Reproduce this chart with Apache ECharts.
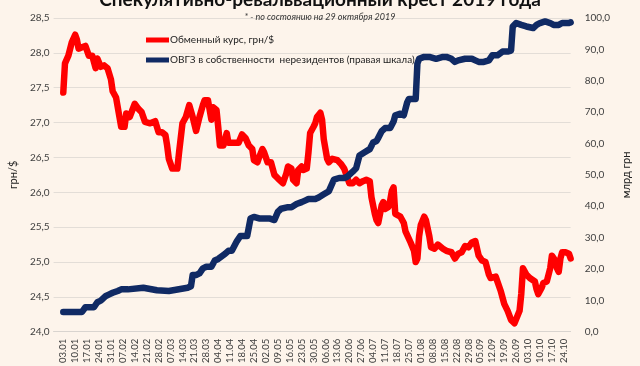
<!DOCTYPE html>
<html>
<head>
<meta charset="utf-8">
<script src="https://cdn.jsdelivr.net/npm/echarts@6/dist/echarts.min.js"></script>
<style>
html,body{margin:0;padding:0;background:#fdf4eb;}
#chart{width:640px;height:366px;}
</style>
</head>
<body>
<div id="chart"></div>
<script>
// x-axis tick labels (weekly, day offsets from 03.01.2019 = 0, 7, 14, ...)
const weekLabels = ['03.01','10.01','17.01','24.01','31.01','07.02','14.02','21.02','28.02','07.03','14.03','21.03','28.03','04.04','11.04','18.04','25.04','02.05','09.05','16.05','23.05','30.05','06.06','13.06','20.06','27.06','04.07','11.07','18.07','25.07','01.08','08.08','15.08','22.08','29.08','05.09','12.09','19.09','26.09','03.10','10.10','17.10','24.10'];

// Exchange rate, UAH/$ (day offset from 03.01.2019)
const rateDays = [0,1,3,5,7,8,9,11,13,15,17,18,19,20,22,24,26,28,29,31,33,34,36,37,39,42,44,46,48,51,54,56,58,60,61,62,64,67,68,70,72,74,75,76,78,79,80,82,83,85,86,87,88,90,91,92,94,95,96,97,100,103,105,107,109,111,112,114,115,117,118,120,122,124,126,129,131,132,134,135,137,138,140,141,143,144,145,147,148,149,151,152,153,155,156,158,161,163,165,166,168,170,172,174,176,178,180,181,183,184,185,187,188,189,191,192,193,194,195,198,200,201,202,204,206,207,208,209,210,212,213,215,216,218,220,223,225,228,230,232,234,236,238,240,242,244,246,248,250,251,254,255,257,259,261,263,265,266,268,269,270,272,274,277,278,279,281,282,284,286,287,289,290,291,292,293,295,297,298];
const rateValues = [27.43,27.85,27.96,28.15,28.26,28.19,28.06,28.08,28.10,27.96,27.96,27.87,27.78,27.92,27.80,27.82,27.78,27.62,27.45,27.36,27.08,26.94,26.94,27.13,27.08,27.27,27.20,27.15,27.01,26.99,27.02,26.86,26.86,26.82,26.67,26.48,26.34,26.34,26.57,26.99,27.08,27.25,27.27,27.08,26.88,26.90,27.08,27.25,27.32,27.32,27.18,27.04,27.22,27.18,26.94,26.67,26.67,26.76,26.85,26.71,26.71,26.71,26.83,26.78,26.67,26.62,26.46,26.43,26.50,26.62,26.57,26.43,26.43,26.25,26.20,26.13,26.27,26.37,26.34,26.18,26.13,26.32,26.37,26.32,26.34,26.57,26.85,26.94,26.99,27.08,27.14,27.04,26.76,26.48,26.43,26.48,26.46,26.41,26.34,26.27,26.13,26.13,26.18,26.13,26.16,26.18,26.16,25.93,25.69,25.60,25.56,25.81,25.86,25.76,25.79,25.88,26.02,26.07,25.69,25.65,25.56,25.44,25.44,25.28,25.16,25.00,25.05,25.37,25.53,25.65,25.60,25.37,25.21,25.19,25.25,25.19,25.16,25.14,25.05,25.12,25.14,25.23,25.21,25.28,25.30,25.09,25.02,25.00,24.82,24.77,24.79,24.77,24.58,24.40,24.30,24.17,24.12,24.14,24.30,24.54,24.91,24.82,24.77,24.72,24.61,24.54,24.63,24.70,24.72,24.91,25.09,25.02,24.91,24.86,25.05,25.14,25.14,25.12,25.05];

// OVGZ held by non-residents, bn UAH (right axis)
const ovgzDays = [0,11,13,18,20,22,25,27,29,32,34,38,47,55,62,63,73,75,76,78,80,82,84,87,89,91,95,97,99,102,104,108,110,112,115,121,124,126,128,132,134,137,140,142,144,148,150,153,156,159,162,165,167,170,172,174,177,180,182,184,185,187,189,192,194,195,198,200,202,203,207,208,209,212,215,219,223,225,228,230,232,236,240,242,244,247,250,252,255,256,258,261,263,264,266,269,272,276,278,280,283,286,288,291,293,297,298];
const ovgzValues = [6.3,6.3,7.8,7.8,9.4,9.9,11.4,11.9,12.4,13.0,13.5,13.5,14.0,13.2,13.0,13.5,14.0,14.5,18.1,18.1,18.6,20.2,20.7,20.7,22.7,23.2,24.8,25.8,25.8,28.9,30.5,30.5,36.1,36.6,36.1,36.1,35.6,38.2,39.2,39.7,39.7,40.7,41.3,41.8,42.3,42.3,42.8,43.8,44.8,48.5,49.0,49.0,49.5,51.0,52.1,56.2,57.2,58.2,60.3,60.8,61.8,63.9,64.9,64.9,67.0,69.0,69.5,69.0,73.1,74.2,74.2,85.5,87.0,87.6,87.6,87.0,87.6,87.6,87.0,86.0,86.5,87.0,87.0,86.5,86.0,86.0,86.5,88.1,88.1,88.6,89.3,89.3,89.6,97.3,98.4,97.8,97.3,96.8,97.8,98.4,98.9,98.4,97.8,97.8,98.4,98.4,98.6];

const rateName = 'Обменный курс, грн/$';
const ovgzName = 'ОВГЗ в собственности  нерезидентов (правая шкала)';

const comma = (v, d) => v.toFixed(d).replace('.', ',');
const font = 'Lato, "Liberation Sans", sans-serif';

const chart = echarts.init(document.getElementById('chart'), null, {renderer: 'canvas'});
chart.setOption({
  backgroundColor: '#fdf4eb',
  animation: false,
  title: [
    {text: 'Спекулятивно-ревальвационный крест 2019 года', left: 'center', top: -15,
     textStyle: {fontFamily: font, fontSize: 19, fontWeight: 'bold', color: '#111'}},
    {text: '* - по состоянию на 29 октября 2019', left: 'center', top: 8,
     textStyle: {fontFamily: font, fontSize: 9, fontStyle: 'italic', fontWeight: 'normal', color: '#333'}}
  ],
  legend: {
    orient: 'vertical', left: 141, top: 30, itemGap: 10, itemWidth: 23, itemHeight: 5,
    icon: 'rect',
    textStyle: {fontFamily: font, fontSize: 10, color: '#222', padding: [0,0,0,-4]},
    data: [rateName, ovgzName]
  },
  grid: {left: 50, right: 56, top: 18, bottom: 24, containLabel: false},
  xAxis: {
    type: 'value', min: -5.7, max: 298,
    axisLine: {show: true, lineStyle: {color: '#d9d4cf', width: 1}},
    axisTick: {show: false},
    splitLine: {show: false},
    axisLabel: {
      customValues: weekLabels.map((_, i) => i * 7),
      formatter: v => weekLabels[Math.round(v / 7)] || '',
      rotate: 90, fontSize: 9.5, fontFamily: font, color: '#404040', margin: 7
    }
  },
  yAxis: [
    {type: 'value', min: 24, max: 28.5, interval: 0.5, name: 'грн/$',
     nameLocation: 'middle', nameRotate: 90, nameGap: 29,
     nameTextStyle: {fontFamily: font, fontSize: 11, color: '#222'},
     axisLine: {show: false}, axisTick: {show: false},
     axisLabel: {formatter: v => comma(v, 1), fontSize: 10, fontFamily: font, color: '#404040', margin: 4},
     splitLine: {show: true, lineStyle: {color: '#e3ddd7', width: 1}}},
    {type: 'value', min: 0, max: 100, interval: 10, name: 'млрд грн',
     nameLocation: 'middle', nameRotate: 90, nameGap: 44,
     nameTextStyle: {fontFamily: font, fontSize: 11, color: '#222'},
     axisLine: {show: false}, axisTick: {show: false},
     axisLabel: {formatter: v => comma(v, 1), fontSize: 10, fontFamily: font, color: '#404040', margin: 14},
     splitLine: {show: false}}
  ],
  series: [
    {name: rateName, type: 'line', yAxisIndex: 0, symbol: 'none',
     data: rateDays.map((d, i) => [d, rateValues[i]]),
     itemStyle: {color: '#ff0000'},
     lineStyle: {color: '#ff0000', width: 6.5, join: 'round', cap: 'round'}},
    {name: ovgzName, type: 'line', yAxisIndex: 1, symbol: 'none',
     data: ovgzDays.map((d, i) => [d, ovgzValues[i]]),
     itemStyle: {color: '#102a64'},
     lineStyle: {color: '#102a64', width: 6.5, join: 'round', cap: 'round'}}
  ]
});
</script>
</body>
</html>
